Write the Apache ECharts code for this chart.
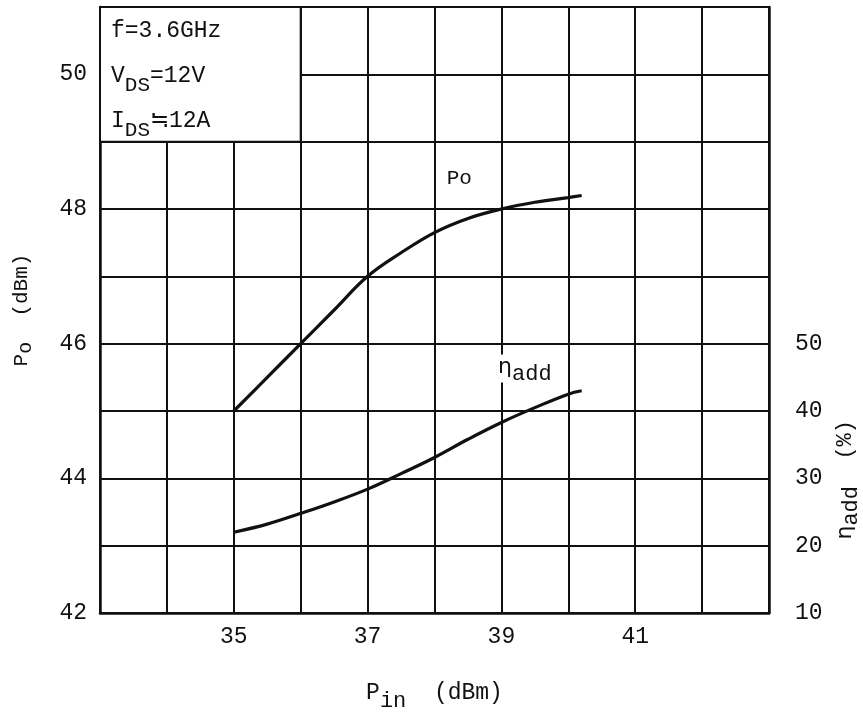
<!DOCTYPE html>
<html><head><meta charset="utf-8">
<script src="https://cdn.jsdelivr.net/npm/echarts@6/dist/echarts.min.js"></script>
<style>html,body{margin:0;padding:0;background:#fff}#c{width:863px;height:712px}</style>
</head><body><div id="c"></div>
<script>
// Data
const pinPo   = [35, 35.5, 36, 36.5, 37, 37.5, 38, 38.5, 39, 39.5, 40, 40.2];
const poVals  = [45, 45.5, 46, 46.5, 47, 47.35, 47.65, 47.86, 48.0, 48.1, 48.17, 48.2];
const pinEff  = [35, 35.5, 36, 36.5, 37, 37.5, 38, 38.5, 39, 39.5, 40, 40.2];
const effVals = [22, 23.2, 24.8, 26.5, 28.4, 30.7, 33.1, 35.8, 38.3, 40.5, 42.5, 43.0];
const xTickLabels = [35, 37, 39, 41];
const leftTickLabels = [42, 44, 46, 48, 50];
const rightTickLabels = [10, 20, 30, 40, 50];

const FONT = 'Liberation Mono';
const INK = '#111';
const chart = echarts.init(document.getElementById('c'));
const lineW = 2;

chart.setOption({
  backgroundColor: '#fff',
  animation: false,
  textStyle: {fontFamily: FONT, color: INK},
  grid: {left: 100, right: 94, top: 7, bottom: 99, containLabel: false, outerBoundsMode: 'none'},
  xAxis: {
    type: 'value', min: 33, max: 43, interval: 1,
    axisLine: {show: true, onZero: false, lineStyle: {color: INK, width: 2.5}},
    axisTick: {show: false},
    splitLine: {show: true, lineStyle: {color: INK, width: lineW}},
    axisLabel: {fontFamily: FONT, fontSize: 23, color: INK, margin: 12,
      formatter: v => xTickLabels.includes(v) ? String(v) : ''},
    name: '{n|P}{s|in}{n|  (dBm)}', nameLocation: 'middle', nameGap: 68,
    nameTextStyle: {rich: {
      n: {fontFamily: FONT, fontSize: 23, color: INK, verticalAlign: 'top', lineHeight: 30},
      s: {fontFamily: FONT, fontSize: 22, color: INK, verticalAlign: 'top', lineHeight: 26, padding: [9,0,0,0]}
    }}
  },
  yAxis: [{
    type: 'value', min: 42, max: 51, interval: 1,
    axisLine: {show: true, onZero: false, lineStyle: {color: INK, width: 2.5}},
    axisTick: {show: false},
    splitLine: {show: true, lineStyle: {color: INK, width: lineW}},
    axisLabel: {fontFamily: FONT, fontSize: 23, color: INK, margin: 13,
      formatter: v => leftTickLabels.includes(v) ? String(v) : ''},
    name: '{n|P}{s|o}{n|  (dBm)}', nameLocation: 'middle', nameGap: 63, nameRotate: 90,
    nameTextStyle: {rich: {
      n: {fontFamily: FONT, fontSize: 21, color: INK, verticalAlign: 'top', lineHeight: 26},
      s: {fontFamily: FONT, fontSize: 20, color: INK, verticalAlign: 'top', lineHeight: 24, padding: [5,0,0,0]}
    }}
  }, {
    type: 'value', min: 10, max: 100, interval: 10, position: 'right',
    axisLine: {show: true, onZero: false, lineStyle: {color: INK, width: 2.5}},
    axisTick: {show: false},
    splitLine: {show: false},
    axisLabel: {fontFamily: FONT, fontSize: 23, color: INK, margin: 26,
      formatter: v => rightTickLabels.includes(v) ? String(v) : ''}
  }],
  graphic: [{
    type: 'text', left: 834, top: 420, rotation: Math.PI / 2,
    style: {
      text: '{g|η}{s|add}{n|  (%)}',
      rich: {
        g: {fontFamily: 'DejaVu Sans', fontSize: 22, fill: INK, verticalAlign: 'top', lineHeight: 26},
        n: {fontFamily: FONT, fontSize: 22, fill: INK, verticalAlign: 'top', lineHeight: 26},
        s: {fontFamily: FONT, fontSize: 22, fill: INK, verticalAlign: 'top', lineHeight: 26, padding: [6,0,0,0]}
      }
    }
  }],
  series: [{
    name: 'Po', type: 'line', yAxisIndex: 0, smooth: 0.4, showSymbol: false,
    data: pinPo.map((x, i) => [x, poVals[i]]),
    lineStyle: {color: INK, width: 3.2},
    markPoint: {
      symbol: 'rect', symbolSize: 0,
      data: [{coord: [38.37, 48.45]}],
      label: {show: true, position: 'inside', formatter: 'Po', fontFamily: FONT, fontSize: 21, color: INK}
    },
    markArea: {
      silent: true,
      itemStyle: {color: '#fff', borderColor: INK, borderWidth: 2},
      label: {
        show: true, position: 'insideTopLeft', offset: [7, 8],
        formatter: '{n|f=3.6GHz}\n{n|V}{s|DS}{n|=12V}\n{n|I}{s|DS}{n|≒12A}',
        rich: {
          n: {fontFamily: FONT, fontSize: 23, color: INK, verticalAlign: 'top', lineHeight: 45},
          s: {fontFamily: FONT, fontSize: 21, color: INK, verticalAlign: 'top', lineHeight: 34, padding: [11,0,0,0]}
        }
      },
      data: [[{coord: [33, 51]}, {coord: [36, 49]}]]
    }
  }, {
    name: 'eff', type: 'line', yAxisIndex: 1, smooth: 0.4, showSymbol: false,
    data: pinEff.map((x, i) => [x, effVals[i]]),
    lineStyle: {color: INK, width: 3.2},
    markPoint: {
      symbol: 'rect', symbolSize: 0,
      data: [{coord: [39.35, 46.3]}],
      label: {show: true, position: 'inside', formatter: '{g|η}{s|add}',
        backgroundColor: '#fff', padding: [2, 3, 2, 3],
        rich: {
          g: {fontFamily: 'DejaVu Sans', fontSize: 22, color: INK, verticalAlign: 'top', lineHeight: 24},
          s: {fontFamily: FONT, fontSize: 22, color: INK, verticalAlign: 'top', lineHeight: 24, padding: [7,0,0,0]}
        }}
    }
  }]
});
</script>
</body></html>
